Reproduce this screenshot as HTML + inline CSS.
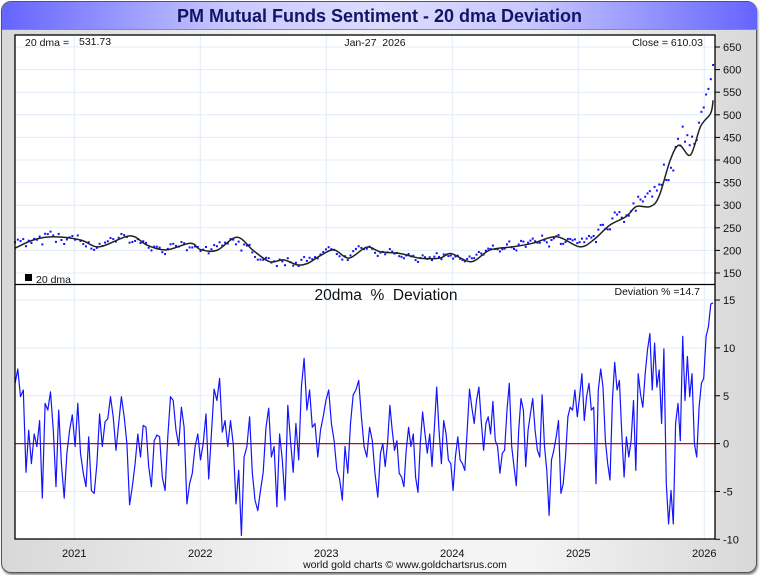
<!DOCTYPE html>
<html><head><meta charset="utf-8">
<style>
html,body{margin:0;padding:0;width:760px;height:575px;overflow:hidden;background:#fff;font-family:"Liberation Sans",sans-serif;}
#frame{position:absolute;left:1px;top:1px;width:754px;height:570px;border:1.5px solid #555;border-radius:10px;background:linear-gradient(90deg,#d8d8d8,#f4f4f4 40%,#f4f4f4 70%,#d8d8d8);box-shadow:1px 2px 2px #888;}
#title{position:absolute;left:2px;top:2px;width:755px;height:27px;border-radius:9px 9px 0 0;background:linear-gradient(90deg,#6464ff,#c8c8ff 30%,#dcdcff 50%,#c8c8ff 70%,#6464ff);border-bottom:1px solid #8888aa;text-align:center;font:bold 18px "Liberation Sans",sans-serif;line-height:28px;color:#141466;}
svg{position:absolute;left:0;top:0;}
</style></head><body>
<div id="frame"></div>
<div id="title">PM Mutual Funds Sentiment - 20 dma Deviation</div>
<svg id="chart" width="760" height="575"></svg>
<script>
// 20-day moving average (decimal year, value)
const dmaDates=[2020.53,2020.675,2020.83,2021.05,2021.20,2021.44,2021.575,2021.73,2021.92,2022.0,2022.13,2022.29,2022.42,2022.55,2022.66,2022.77,2022.85,2022.95,2023.06,2023.18,2023.32,2023.43,2023.59,2023.74,2023.90,2023.99,2024.15,2024.30,2024.485,2024.64,2024.83,2025.01,2025.12,2025.25,2025.38,2025.46,2025.57,2025.64,2025.73,2025.80,2025.89,2025.97,2026.05,2026.07];
const dmaValues=[205,223,230,223,208,232,212,201,216,202,200,229,200,175,179,168,171,188,201,183,207,197,193,183,183,193,175,201,208,216,230,208,223,256,275,297,297,319,400,433,411,474,503,532];
// deviation % segments (uniformly spaced within each segment)
const segStarts=[2020.53,2023.43];
const segEnds=[2023.43,2026.07];
const devSeg1=[6.3,7.8,4.9,5.6,-3,1.4,-2.1,1,-0.3,2.4,-5.7,4.2,3.5,5.4,1.4,-4.5,3.5,-2.1,-5.7,-1,1.4,3,-0.3,4.2,-1,-3.1,-4.5,0.7,-4.9,-5.2,-2.1,3.1,-0.3,2.3,2.6,4.9,2.8,-0.7,2.1,4.9,2.8,0,-6.4,-4.5,-2.1,1,-1.4,1.9,1.7,-2.4,-4.5,0.3,0.9,0.7,-3.5,-4.9,0.7,4.9,4.5,1.4,-0.2,3.8,1.7,-6.3,-4.2,-3.1,-0.3,1,-1.7,0,3.1,-3.7,1,5.7,4.5,6.8,1.2,2.4,-0.3,2.4,0,-6.3,-2.8,-9.6,-1.4,-0.3,2.8,-3,-5.9,-7,-4.9,-3,1.7,3.7,-1.4,-0.3,-6.6,1,-1.7,-5.9,4,0.3,-3,2.1,-1.7,5.9,8.9,3.5,5.6,1.7,2.1,-1.4,1.4,2.8,4.5,5.6,2.1,0.3,-2.8,-3.7,-5.9,-0.3,-3.1,2.1,5.1,5.6,6.6,2.8,-0.3,-1.4,1.7,0.3,-3.1,-5.6,-1.0];
const devSeg2=[-1.0,0,-2.4,0,4.0,1.4,-0.7,0.3,-3.1,-3.5,-4.5,-0.7,1.7,-0.3,1.0,-3.5,-5.1,0,3.3,1.0,-1.0,1.0,-2.4,1.7,5.9,1.4,-2.1,2.4,1.0,-1.7,-2.1,-4.9,-1.4,0.7,-1.7,-2.1,-2.8,1.4,5.7,3.8,2.1,4.5,5.9,2.4,-0.7,2.1,2.8,1.0,4.4,0.3,-0.3,-3.1,-1.0,-0.7,3.5,6.3,-0.3,-2.4,-4.4,1.4,4.7,3.5,-2.4,1.4,3.1,4.7,1.4,-0.7,-1.4,5.1,-0.3,-2.8,-7.5,-1.7,-0.7,0.7,2.4,-5.2,-4.2,-1.4,2.8,3.8,3.5,5.6,2.8,4.9,7.3,2.4,4.9,6.3,3.5,3.8,-4.2,5.6,7.8,5.9,0.3,-2.1,-3.8,4.5,8.5,5.6,6.6,1.0,-3.5,0.7,-1.4,0.3,4.5,-2.8,7.3,5.2,3.8,7.3,9.8,11.5,5.6,10.5,5.9,7.7,2.1,9.9,-4.2,-8.4,-4.9,-8.4,2.1,4.2,0.3,11.2,4.5,9.1,4.9,7.3,0,-1.4,3.8,6.3,6.8,11.2,12.2,14.6,14.7];
const topTicks=[150,200,250,300,350,400,450,500,550,600,650];
const botTicks=[-10,-5,0,5,10,15];
const yearTicks=[2021,2022,2023,2024,2025,2026];

const NS="http://www.w3.org/2000/svg";
const svg=document.getElementById('chart');
const L=15,R=715,T=35,MID=284.5,B=539;
const xS=yr=>74.3+(yr-2021)*126;
const yTop=v=>47+(650-v)*22.6/50;
const yBot=v=>443.6-v*9.57;
function mk(tag,attrs,parent){const e=document.createElementNS(NS,tag);for(const k in attrs)e.setAttribute(k,attrs[k]);(parent||svg).appendChild(e);return e;}
function txt(s,x,y,size,anchor,parent){const t=mk('text',{x:x,y:y,'font-size':size,'text-anchor':anchor||'start','font-family':'Liberation Sans, sans-serif',fill:'#111'},parent);t.textContent=s;return t;}

const bg=mk('rect',{x:L,y:T,width:R-L,height:B-T,fill:'#fff'});



const grid=mk('g',{stroke:'#e1ecf7','stroke-width':1});


topTicks.forEach(v=>mk('line',{x1:L,x2:R,y1:yTop(v),y2:yTop(v)},grid));
botTicks.forEach(v=>{if(v!==0&&v!==-10)mk('line',{x1:L,x2:R,y1:yBot(v),y2:yBot(v)},grid);});
yearTicks.forEach(y=>mk('line',{x1:xS(y),x2:xS(y),y1:T,y2:B},grid));

const zl=mk('line',{x1:L,x2:R,y1:yBot(0),y2:yBot(0),stroke:'#e00000','stroke-width':1.3});



function dmaAt(t){
  if(t<=dmaDates[0])return dmaValues[0];
  for(let i=1;i<dmaDates.length;i++){if(t<=dmaDates[i]){const f=(t-dmaDates[i-1])/(dmaDates[i]-dmaDates[i-1]);return dmaValues[i-1]+f*(dmaValues[i]-dmaValues[i-1]);}}
  return dmaValues[dmaValues.length-1];
}
const segs=[devSeg1,devSeg2];
let devPts=[];
segs.forEach((s,k)=>{const st=segStarts[k],en=segEnds[k];s.forEach((v,i)=>{if(k>0&&i===0)return;devPts.push([st+(en-st)*i/(s.length-1),v]);});});

const dots=mk('g',{fill:'#1010ff'});


devPts.forEach(p=>{const c=dmaAt(p[0])*(1+p[1]/100);mk('rect',{x:xS(p[0])-1,y:yTop(c)-1,width:2,height:2},dots);});

// smooth dma line (Catmull-Rom)
const P=dmaDates.map((d,i)=>[xS(d),yTop(dmaValues[i])]);
let dstr='M'+P[0][0].toFixed(1)+' '+P[0][1].toFixed(1);
for(let i=0;i<P.length-1;i++){
  const p0=P[Math.max(0,i-1)],p1=P[i],p2=P[i+1],p3=P[Math.min(P.length-1,i+2)];
  const c1=[p1[0]+(p2[0]-p0[0])/6,p1[1]+(p2[1]-p0[1])/6];
  const c2=[p2[0]-(p3[0]-p1[0])/6,p2[1]-(p3[1]-p1[1])/6];
  dstr+=' C'+c1[0].toFixed(1)+' '+c1[1].toFixed(1)+' '+c2[0].toFixed(1)+' '+c2[1].toFixed(1)+' '+p2[0].toFixed(1)+' '+p2[1].toFixed(1);
}
const dl=mk('path',{d:dstr,fill:'none',stroke:'#222','stroke-width':1.5,'stroke-linejoin':'round'});



const dv=mk('path',{d:devPts.map((p,i)=>(i?'L':'M')+xS(p[0]).toFixed(1)+' '+yBot(p[1]).toFixed(1)).join(' '),fill:'none',stroke:'#1414ff','stroke-width':1.2,'stroke-linejoin':'round'});



const bd=mk('rect',{x:L,y:T,width:R-L,height:B-T,fill:'none',stroke:'#000','stroke-width':1.3});


const dvd=mk('line',{x1:L,x2:R,y1:MID,y2:MID,stroke:'#000','stroke-width':1.3});



const ax=mk('g',{});


topTicks.forEach(v=>{mk('line',{x1:R,x2:R+5,y1:yTop(v),y2:yTop(v),stroke:'#000'},ax);txt(String(v),723,yTop(v)+4,11,'start',ax);});
botTicks.forEach(v=>{mk('line',{x1:R,x2:R+5,y1:yBot(v),y2:yBot(v),stroke:'#000'},ax);txt(String(v),723,yBot(v)+4,11,'start',ax);});
const xa=mk('g',{});


yearTicks.forEach(y=>txt(String(y),xS(y),557,11,'middle',xa));

const l1=txt('20 dma =',25,46,10.5);
const l2=txt('531.73',79,45,10.5);
const l3=txt('Jan-27  2026',375,46,10.5,'middle');l3.style.whiteSpace='pre';
const l4=txt('Close = 610.03',703,46,10.5,'end');
const lg=mk('rect',{x:25,y:274,width:7,height:7,fill:'#000'});
const l5=txt('20 dma',36,283,10.5);
const l6=txt('20dma  %  Deviation',386,300,15.5,'middle');l6.style.whiteSpace='pre';
const l7=txt('Deviation % =14.7',700,295,10.5,'end');
const l8=txt('world gold charts © www.goldchartsrus.com',405,568,10.5,'middle');
</script>
</body></html>
